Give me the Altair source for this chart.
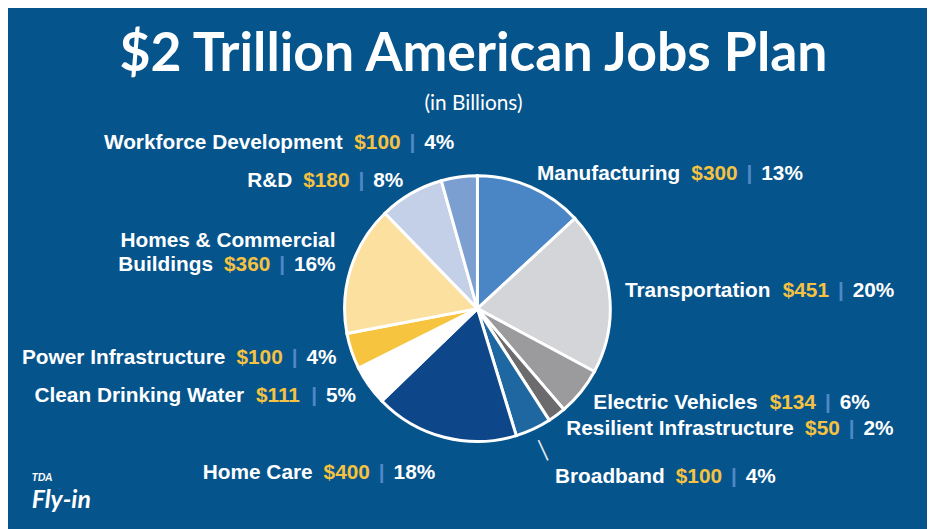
import json
import altair as alt
import pandas as pd

# ---------------- data ----------------
categories = [
    "Manufacturing", "Transportation", "Electric Vehicles", "Resilient Infrastructure",
    "Broadband", "Home Care", "Clean Drinking Water", "Power Infrastructure",
    "Homes & Commercial Buildings", "R&D", "Workforce Development",
]
values = [300, 451, 134, 50, 100, 400, 111, 100, 360, 180, 100]
percents = [13, 20, 6, 2, 4, 18, 5, 4, 16, 8, 4]
display_names = [
    "Manufacturing", "Transportation", "Electric Vehicles", "Resilient Infrastructure",
    "Broadband", "Home Care", "Clean Drinking Water", "Power Infrastructure",
    "Homes & Commercial\nBuildings", "R&D", "Workforce Development",
]
slice_colors = [
    "#4A86C5", "#D4D5D8", "#9B9B9E", "#6B6B6E", "#1F67A0", "#0D4689",
    "#FFFFFF", "#F7C43F", "#FCE0A0", "#C3D0E8", "#7B9FD0",
]
title_text = "$2 Trillion American Jobs Plan"
subtitle_text = "(in Billions)"
logo_small = ["TDA"]
logo_big = ["Fly-in"]

# ---------------- styling ----------------
BG = "#05548C"
GOLD = "#F5C242"
PIPE = "#4F88C6"
WHITE = "#FFFFFF"
LABEL_FONT = "Liberation Sans"
FS = 21
GAP_NAME, GAP_VAL, GAP_PIPE = 11, 9, 9
LINE_H = 24
FAR = ["Home Care", "Workforce Development"]
FARTHER = ["Broadband"]
LEADER = ["Broadband"]

# Liberation Sans Bold (Arial Bold metrics) advance widths, per 1000 em
_AW = {" ": 278, "$": 556, "%": 889, "&": 722, "|": 280}
_AW.update({d: 556 for d in "0123456789"})
_AW.update(dict(zip("abcdefghijklmnopqrstuvwxyz",
                    [556, 611, 556, 611, 556, 333, 611, 611, 278, 278, 556, 278, 889,
                     611, 611, 611, 611, 389, 556, 333, 611, 556, 778, 556, 556, 500])))
_AW.update(dict(zip("ABCDEFGHIJKLMNOPQRSTUVWXYZ",
                    [722, 722, 722, 722, 667, 611, 778, 722, 278, 556, 722, 611, 833,
                     722, 778, 667, 778, 722, 667, 611, 722, 667, 944, 667, 667, 611])))


def tw(s):
    return sum(_AW.get(c, 556) for c in s) / 1000 * FS


rows = []
for i, (cat, v, p, nm) in enumerate(zip(categories, values, percents, display_names)):
    lines = nm.split("\n")
    top = lines[0] if len(lines) > 1 else ""
    main = lines[-1]
    val = f"${v}"
    pct = f"{p}%"
    off_val = tw(main) + GAP_NAME
    off_pipe = off_val + tw(val) + GAP_VAL
    off_pct = off_pipe + tw("|") + GAP_PIPE
    total = off_pct + tw(pct)
    rows.append(dict(idx=i, category=cat, value=v, top=top, main=main, val=val, pipe="|",
                     pct=pct, off_val=off_val, off_pipe=off_pipe, off_pct=off_pct,
                     total=total, w_top=tw(top)))
df = pd.DataFrame(rows)

base = (
    alt.Chart(df)
    .transform_joinaggregate(sumv="sum(value)")
    .transform_window(cum="sum(value)", sort=[alt.SortField("idx", order="ascending")])
    .transform_calculate(
        mid="(datum.cum - datum.value / 2) / datum.sumv",
        r=f"indexof({json.dumps(FARTHER)}, datum.category) >= 0 ? 186 : "
          f"(indexof({json.dumps(FAR)}, datum.category) >= 0 ? 170 : 150)",
    )
)
theta = alt.Theta("value:Q", stack=True)
order = alt.Order("idx:Q", sort="ascending")

pie = base.mark_arc(radius=134, stroke="white", strokeWidth=3).encode(
    theta=theta,
    order=order,
    color=alt.Color("category:N", scale=alt.Scale(domain=categories, range=slice_colors), legend=None),
)

leader = base.transform_calculate(
    t=f"indexof({json.dumps(LEADER)}, datum.category) >= 0 ? '\u2502' : ''",
    ang="datum.mid * 360",
).mark_text(
    radius=157, font="DejaVu Sans", fontSize=19, color="#E6ECF3", align="center", baseline="middle"
).encode(theta=theta, order=order, text="t:N", angle=alt.Angle("ang:Q", scale=None))

start = "(datum.mid < 0.5 ? 0 : -datum.total)"
segments = [
    ("top", WHITE, "(datum.mid < 0.5 ? 0 : datum.total - datum.w_top)", -LINE_H),
    ("main", WHITE, "0", 0),
    ("val", GOLD, "datum.off_val", 0),
    ("pipe", PIPE, "datum.off_pipe", 0),
    ("pct", WHITE, "datum.off_pct", 0),
]
labels = []
for field, col, off, line_dy in segments:
    labels.append(
        base.mark_text(
            align="left", baseline="alphabetic", dy=7.5 + line_dy,
            dx={"expr": f"{start} + {off}"},
            radius={"expr": "datum.r"},
            font=LABEL_FONT, fontWeight="bold", fontSize=FS, color=col,
        ).encode(
            theta=theta, order=order,
            text=f"{field}:N",
        )
    )

logo1 = alt.Chart(pd.DataFrame({"t": logo_small})).mark_text(
    font="Lato", fontStyle="italic", fontWeight="bold", fontSize=11, color="white",
    align="left", baseline="alphabetic",
).encode(text="t:N", x=alt.value(4), y=alt.value(394))
logo2 = alt.Chart(pd.DataFrame({"t": logo_big})).mark_text(
    font="Lato", fontStyle="italic", fontWeight="bold", fontSize=25, color="white",
    align="left", baseline="alphabetic",
).encode(text="t:N", x=alt.value(4), y=alt.value(421))

chart = alt.layer(pie, leader, *labels, logo1, logo2).properties(
    width=907,
    height=440,
    padding={"left": 20, "top": 81, "right": 0, "bottom": 0},
    autosize=alt.AutoSizeParams(type="none"),
    background=BG,
    title=alt.TitleParams(
        text=title_text, subtitle=subtitle_text, anchor="middle", frame="group",
        font="Lato", fontSize=54, fontWeight="bold", color="white",
        subtitleFont="Lato", subtitleFontSize=21, subtitleColor="white", subtitlePadding=12,
        offset=-24, dx=-4,
    ),
).configure_view(stroke=None)

chart.save("out.html", embed_options={"renderer": "svg", "actions": False})
